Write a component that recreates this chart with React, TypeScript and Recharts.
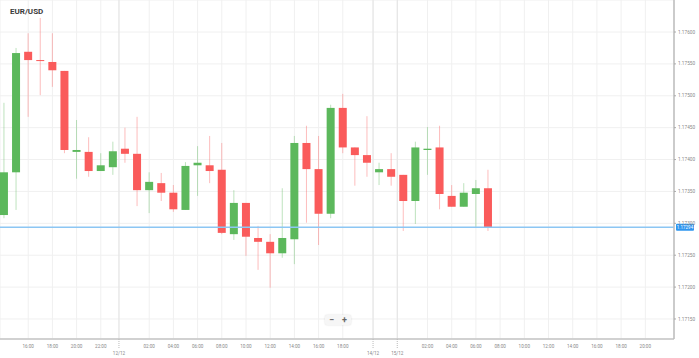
import { ComposedChart, Bar, XAxis, YAxis, CartesianGrid, ReferenceLine } from "recharts";

// hourly EUR/USD candles, one slot per hour (weekend gap compressed)
const opens = [
  1.17313, 1.1738, 1.17569, 1.17556, 1.17553, 1.17539, 1.17412, 1.17412, 1.17382, 1.17388,
  1.17417, 1.17409, 1.17352, 1.17363, 1.17348, 1.17321, 1.17391, 1.17391, 1.17384, 1.17283,
  1.17332, 1.17277, 1.17271, 1.17253, 1.17275, 1.17426, 1.17385, 1.17315, 1.17481, 1.17419,
  1.17407, 1.1738, 1.17385, 1.17376, 1.17335, 1.17415, 1.17419, 1.17343, 1.17326, 1.17346,
  1.17355,
];
const closes = [
  1.1738, 1.17567, 1.17556, 1.17555, 1.1754, 1.17415, 1.17415, 1.17382, 1.17391, 1.17413,
  1.17409, 1.17352, 1.17365, 1.17348, 1.17322, 1.1739, 1.17395, 1.17382, 1.17285, 1.17332,
  1.17279, 1.17271, 1.17253, 1.17277, 1.17426, 1.17385, 1.17315, 1.17481, 1.17419, 1.17407,
  1.17395, 1.17385, 1.17373, 1.17335, 1.17419, 1.17417, 1.17346, 1.17326, 1.17348, 1.17355,
  1.17294,
];
const highs = [
  1.17489, 1.17575, 1.17598, 1.17622, 1.17598, 1.17539, 1.17462, 1.17435, 1.1741, 1.17428,
  1.1745, 1.17467, 1.1738, 1.17379, 1.1736, 1.17396, 1.17421, 1.17437, 1.17426, 1.17352,
  1.17332, 1.17296, 1.17283, 1.17355, 1.17437, 1.17453, 1.17437, 1.17486, 1.17503, 1.17419,
  1.17468, 1.17395, 1.1741, 1.17376, 1.17428, 1.17451, 1.17453, 1.1736, 1.17363, 1.17368,
  1.17384,
];
const lows = [
  1.17308, 1.17321, 1.17467, 1.17501, 1.17514, 1.1741, 1.1737, 1.17373, 1.17382, 1.17376,
  1.17395, 1.17327, 1.17316, 1.17335, 1.17318, 1.17321, 1.17343, 1.17363, 1.17283, 1.17274,
  1.17249, 1.17227, 1.17199, 1.17246, 1.17236, 1.17301, 1.17266, 1.17308, 1.1741, 1.17359,
  1.17373, 1.1736, 1.17359, 1.17288, 1.17299, 1.17376, 1.17322, 1.17326, 1.17326, 1.17293,
  1.17288,
];

const timeTicks = [2, 4, 6, 8, 12, 14, 16, 18, 20, 22, 24, 26, 28, 35, 37, 39, 41, 43, 45, 47, 49, 51, 53];
const timeLabels = [
  "16:00", "18:00", "20:00", "22:00", "02:00", "04:00", "06:00", "08:00", "10:00", "12:00",
  "14:00", "16:00", "18:00", "02:00", "04:00", "06:00", "08:00", "10:00", "12:00", "14:00",
  "16:00", "18:00", "20:00",
];
const dateTicks = [9.5, 30.5, 32.5];
const dateLabels = ["12/12", "14/12", "15/12"];

const priceTicks = [1.1715, 1.172, 1.1725, 1.173, 1.1735, 1.174, 1.1745, 1.175, 1.1755, 1.176];
const lastPrice = 1.17294;

const UP = "#5cb85c";
const DOWN = "#fa5b5b";
const FONT = "Roboto, sans-serif";

const data = opens.map((open, i) => ({
  slot: i,
  open,
  close: closes[i],
  high: highs[i],
  low: lows[i],
}));

const tickLabel = (v: number) => {
  const d = dateTicks.indexOf(v);
  if (d >= 0) return dateLabels[d];
  const t = timeTicks.indexOf(v);
  return t >= 0 ? timeLabels[t] : "";
};

function Candle(props: any) {
  const { x, y, width, height, payload } = props;
  if (!payload || height == null) return null;
  const { open, close, high, low } = payload;
  const top = Math.min(y, y + height);
  const h = Math.abs(height);
  const ratio = h / (high - low);
  const bodyTop = top + (high - Math.max(open, close)) * ratio;
  const bodyH = Math.max(1, Math.abs(open - close) * ratio);
  const color = close >= open ? UP : DOWN;
  const cx = x + width / 2;
  return (
    <g>
      <line x1={cx} x2={cx} y1={top} y2={top + h} stroke={color} strokeOpacity={0.4} strokeWidth={1} />
      <rect x={x} y={bodyTop} width={width} height={bodyH} fill={color} />
    </g>
  );
}

function XTick(props: any) {
  const { x, y, payload } = props;
  const isDate = dateTicks.includes(payload.value);
  if (isDate) {
    return (
      <g>
        <line x1={x} x2={x} y1={y} y2={y + 9} stroke="#bbb" strokeDasharray="1 1" />
        <text x={x} y={y + 16} textAnchor="middle" fontSize={4.6} fill="#888" fontFamily={FONT}>
          {tickLabel(payload.value)}
        </text>
      </g>
    );
  }
  return (
    <text x={x} y={y + 9} textAnchor="middle" fontSize={4.6} fill="#888" fontFamily={FONT}>
      {tickLabel(payload.value)}
    </text>
  );
}

function YTick(props: any) {
  const { x, y, payload } = props;
  return (
    <g>
      <line x1={x} x2={x + 2} y1={y} y2={y} stroke="#aaa" />
      <text x={x + 4} y={y} dy={1.6} fontSize={4.7} fill="#888" fontFamily={FONT}>
        {payload.value.toFixed(5)}
      </text>
    </g>
  );
}

function PriceTag(props: any) {
  const vb = props.viewBox;
  if (!vb) return null;
  const x = vb.x + vb.width + 2;
  return (
    <g>
      <rect x={x} y={vb.y - 3.5} width={18} height={7} rx={1} fill="#2f96ef" />
      <text x={x + 9} y={vb.y} dy={1.6} textAnchor="middle" fontSize={4.5} fill="#fff" fontFamily={FONT}>
        {lastPrice.toFixed(5)}
      </text>
    </g>
  );
}

export default function App() {
  return (
    <div style={{ position: "absolute", left: 0, top: 0, width: 699, height: 358, background: "#fff", overflow: "hidden" }}>
      <ComposedChart width={699} height={358} data={data} margin={{ top: 0, right: 0, left: 0, bottom: 0 }}>
        <CartesianGrid stroke="#f0f0f0" />
        <XAxis
          type="number"
          dataKey="slot"
          domain={[-0.33, 55.37]}
          allowDataOverflow
          ticks={[...timeTicks, ...dateTicks]}
          interval={0}
          height={19}
          tickSize={0}
          tickMargin={0}
          tick={<XTick />}
          axisLine={{ stroke: "#c4c4c4", strokeWidth: 1.5 }}
        />
        <YAxis
          orientation="right"
          type="number"
          domain={[1.171186, 1.176502]}
          allowDataOverflow
          ticks={priceTicks}
          interval={0}
          width={25}
          tickSize={0}
          tickMargin={0}
          tick={<YTick />}
          axisLine={{ stroke: "#bdbdbd", strokeWidth: 1.5 }}
        />
        {dateTicks.map((d) => (
          <ReferenceLine key={d} x={d} stroke="#e4e4e4" />
        ))}
        <Bar
          dataKey={(d: any) => [d.low, d.high]}
          barSize={8}
          shape={<Candle />}
          isAnimationActive={false}
        />
        <ReferenceLine y={lastPrice} stroke="#8cc6f3" strokeWidth={1.5} label={<PriceTag />} />
      </ComposedChart>
      <div
        style={{
          position: "absolute",
          left: 10,
          top: 7,
          fontFamily: FONT,
          fontWeight: 700,
          fontSize: 8,
          color: "#3a3a3a",
        }}
      >
        EUR/USD
      </div>
      <div
        style={{
          position: "absolute",
          left: 325,
          top: 315,
          width: 26,
          height: 10,
          background: "#f6f6f6",
          borderRadius: 2,
          boxShadow: "0 0 2px rgba(0,0,0,0.15)",
          display: "flex",
          justifyContent: "space-around",
          alignItems: "center",
          fontFamily: FONT,
          fontSize: 9,
          fontWeight: 700,
          color: "#666",
          lineHeight: "10px",
        }}
      >
        <span>−</span>
        <span>+</span>
      </div>
    </div>
  );
}
